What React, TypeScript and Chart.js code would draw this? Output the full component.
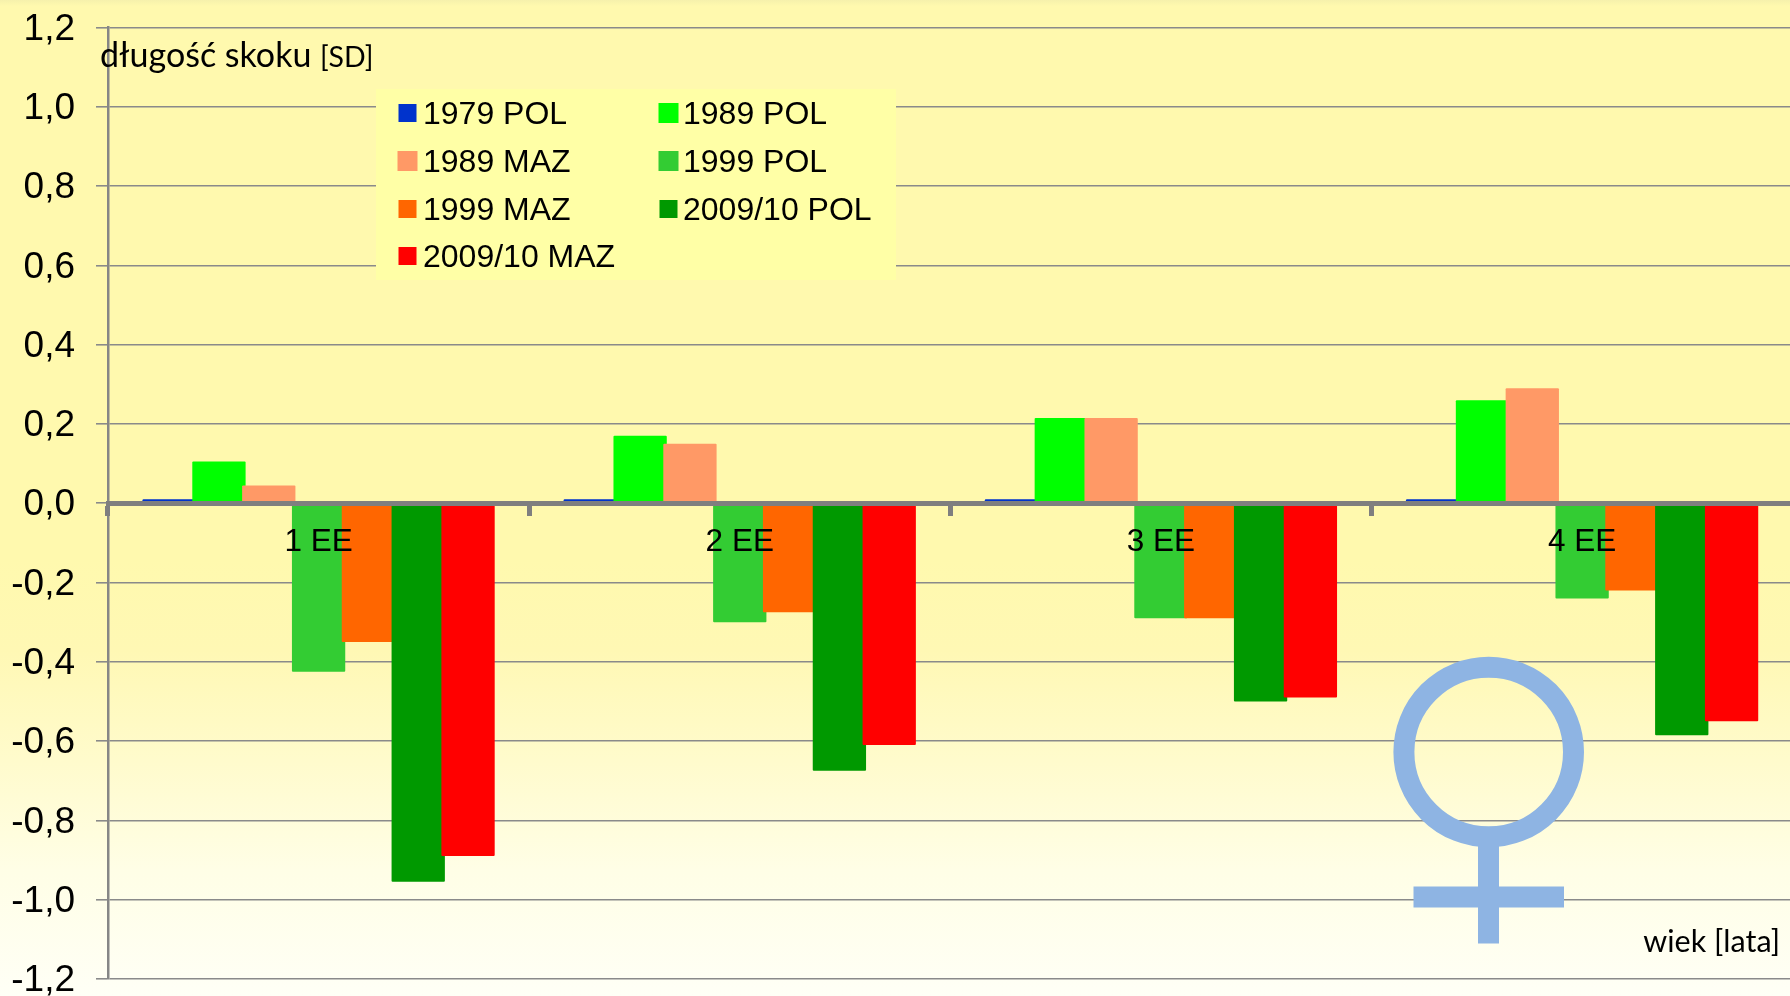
import React, { useEffect, useRef } from "react";
import { Chart, registerables } from "chart.js";

Chart.register(...registerables);

const categories = ["1 EE", "2 EE", "3 EE", "4 EE"];
const pol1979 = [0.01, 0.01, 0.01, 0.01];
const pol1989 = [0.105, 0.17, 0.215, 0.26];
const maz1989 = [0.045, 0.15, 0.215, 0.29];
const pol1999 = [-0.425, -0.3, -0.29, -0.24];
const maz1999 = [-0.35, -0.275, -0.29, -0.22];
const pol2009 = [-0.955, -0.675, -0.5, -0.585];
const maz2009 = [-0.89, -0.61, -0.49, -0.55];

const seriesNames = ["1979 POL", "1989 POL", "1989 MAZ", "1999 POL", "1999 MAZ", "2009/10 POL", "2009/10 MAZ"];
const seriesColors = ["#0033CC", "#00FF00", "#FF9966", "#33CC33", "#FF6600", "#009900", "#FF0000"];
const seriesValues = [pol1979, pol1989, maz1989, pol1999, maz1999, pol2009, maz2009];

const SANS = '"Liberation Sans"';
const CAL = "Lato";

// Later series paint over earlier ones where the bars overlap.
const paintForward = {
  id: "paintForward",
  beforeDatasetsDraw(chart: any) {
    chart.getSortedVisibleDatasetMetas().forEach((meta: any) => meta.controller.draw());
    return false;
  },
};

const annotations = {
  id: "annotations",
  afterDraw(chart: any) {
    const ctx = chart.ctx;
    ctx.save();
    // Legend
    ctx.fillStyle = "#FFFFA6";
    ctx.fillRect(376, 89, 520, 191);
    const rows = [114, 162, 210, 257];
    const order = [
      [0, 0, 0], [1, 0, 1],
      [2, 1, 0], [3, 1, 1],
      [4, 2, 0], [5, 2, 1],
      [6, 3, 0],
    ];
    ctx.textBaseline = "middle";
    ctx.textAlign = "left";
    ctx.font = `32px ${SANS}`;
    order.forEach(([idx, r, c]) => {
      const ds = chart.data.datasets[idx];
      const big = idx === 1 || idx === 2 || idx === 3;
      const s = big ? 20 : 18;
      const cx = c === 0 ? 407.5 : 668.5;
      ctx.fillStyle = ds.backgroundColor;
      ctx.fillRect(cx - s / 2, rows[r] - s / 2 - 1, s, s);
      ctx.fillStyle = "#000";
      ctx.fillText(ds.label, c === 0 ? 423 : 683, rows[r] + 1);
    });

    // Female symbol
    ctx.strokeStyle = "#8EB4E3";
    ctx.fillStyle = "#8EB4E3";
    ctx.lineWidth = 21;
    ctx.beginPath();
    ctx.arc(1488.7, 752, 84.8, 0, Math.PI * 2);
    ctx.stroke();
    ctx.fillRect(1478, 845, 21, 98.5);
    ctx.fillRect(1413.5, 886.5, 150.5, 21);

    // Axis captions
    ctx.fillStyle = "#000";
    ctx.textBaseline = "alphabetic";
    ctx.font = `34px ${CAL}`;
    ctx.fillText("długość skoku", 100, 67);
    ctx.font = `28.5px ${CAL}`;
    ctx.fillText("[SD]", 320, 67);
    ctx.font = `30.5px ${CAL}`;
    ctx.textAlign = "right";
    ctx.fillText("wiek [lata]", 1780, 952);
    ctx.restore();
  },
};

export default function App() {
  const ref = useRef<HTMLCanvasElement>(null);
  useEffect(() => {
    const chart = new Chart(ref.current!, {
      type: "bar",
      data: {
        labels: categories,
        datasets: seriesNames.map((name, i) => ({
          label: name,
          data: seriesValues[i],
          backgroundColor: seriesColors[i],
          borderRadius: 1,
          barPercentage: 1.07,
          categoryPercentage: 0.828,
        })),
      },
      options: {
        responsive: false,
        animation: false,
        layout: { padding: { left: 0, right: 7.3, top: 27.5, bottom: 17 } },
        plugins: { legend: { display: false }, tooltip: { enabled: false }, title: { display: false } },
        scales: {
          x: {
            position: { y: 0 } as any,
            afterFit: (s: any) => { s.height = 0; s.paddingLeft = 0; s.paddingRight = 0; s.paddingTop = 0; s.paddingBottom = 0; },
            grid: { drawOnChartArea: false, drawTicks: true, tickLength: 10, tickWidth: 5, tickColor: "#7F7F7F", z: 1 },
            border: { display: true, color: "#7F7F7F", width: 5, z: 1 },
            ticks: { z: 2, color: "#000", font: { family: SANS, size: 31.5 }, padding: 10, maxRotation: 0, autoSkip: false },
          },
          y: {
            min: -1.2,
            max: 1.2,
            afterFit: (s: any) => { s.width = 108; s.paddingTop = 0; s.paddingBottom = 0; s.paddingLeft = 0; s.paddingRight = 0; },
            grid: { color: "#8A8A8A", lineWidth: 1.6, tickLength: 12, tickColor: "#8A8A8A", tickWidth: 1.6 },
            border: { display: true, color: "#868686", width: 2.5 },
            ticks: {
              stepSize: 0.2,
              color: "#000",
              font: { family: SANS, size: 37, lineHeight: 1 },
              padding: 21,
              labelOffset: 2,
              callback: (v: any) => Number(v).toFixed(1).replace(".", ","),
            },
          },
        },
      },
      plugins: [paintForward, annotations],
    } as any);
    return () => chart.destroy();
  }, []);
  return (
    <div
      style={{
        position: "fixed",
        left: 0,
        top: 0,
        width: 1790,
        height: 996,
        overflow: "hidden",
        background:
          "linear-gradient(to bottom, #F6F1AC 0px, #FFF9AE 6px, #FFF9AE 560px, #FFF8B4 650px, #FFFBCC 760px, #FFFEE6 870px, #FFFFF6 996px)",
      }}
    >
      <canvas ref={ref} width={1800} height={996} style={{ display: "block", width: 1800, height: 996 }} />
    </div>
  );
}
